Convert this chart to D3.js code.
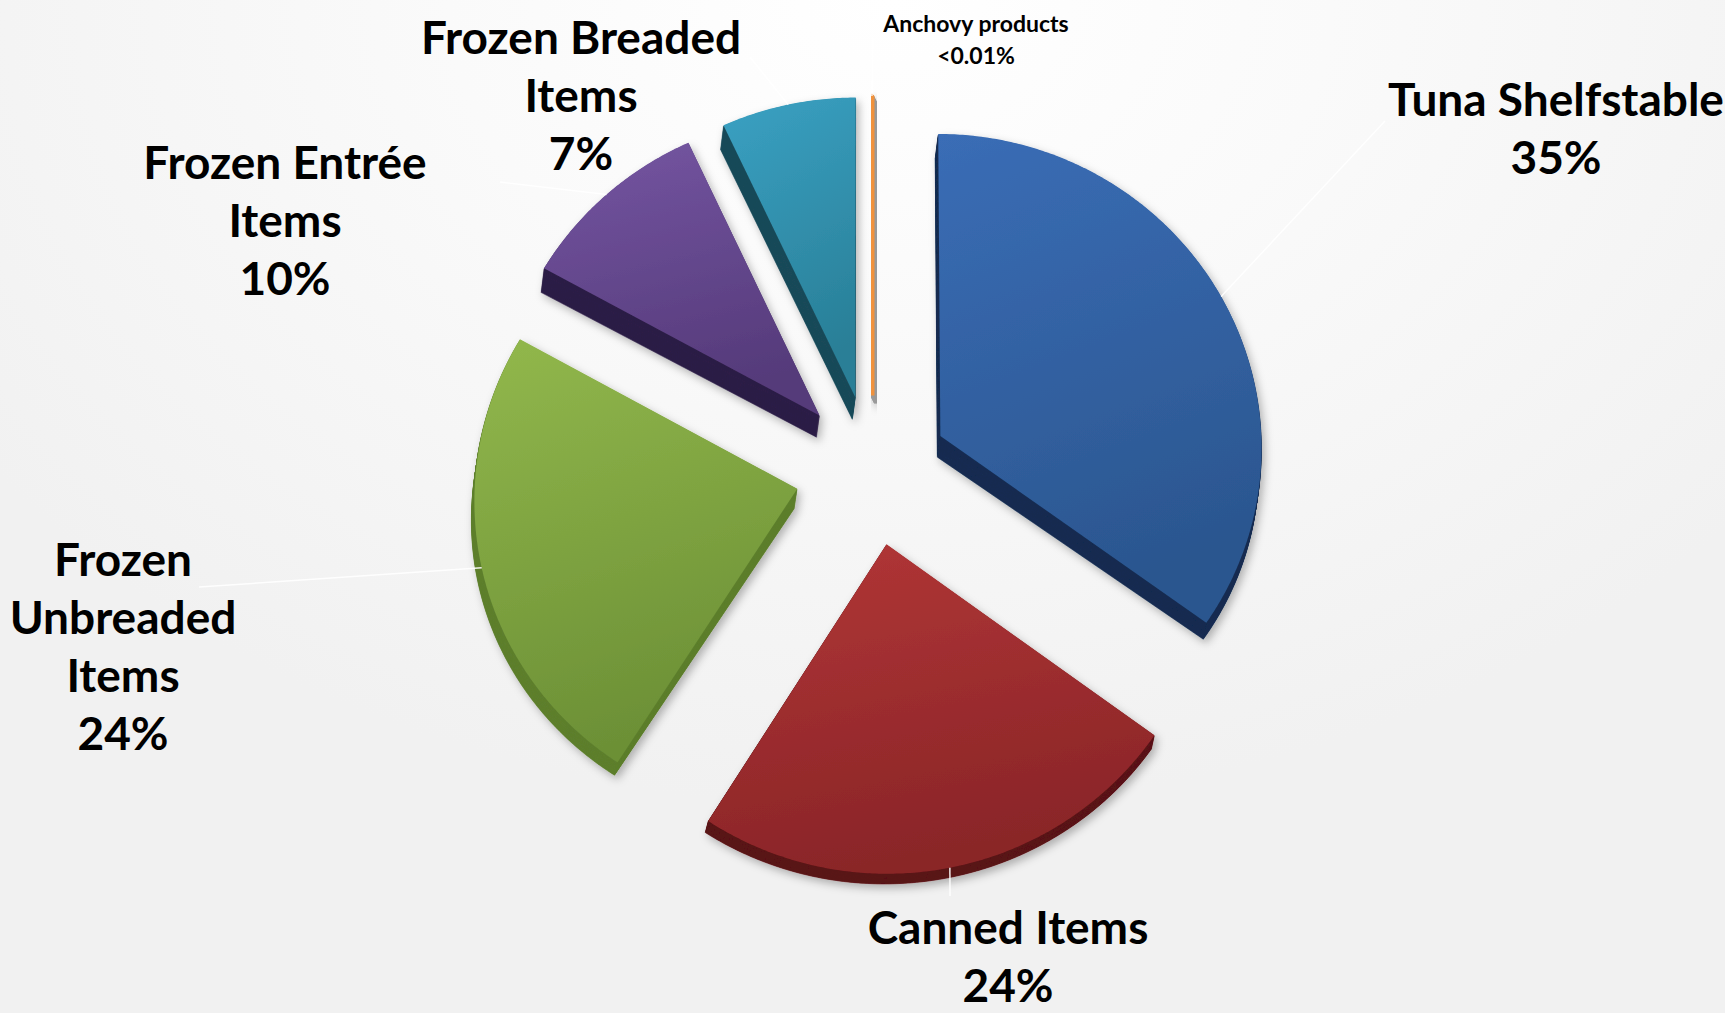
<!DOCTYPE html>
<html>
<head>
<meta charset="utf-8">
<script src="https://cdn.jsdelivr.net/npm/d3@7"></script>
<style>
  html, body { margin: 0; padding: 0; background: #f2f2f2; overflow: hidden; }
  text { font-family: "Lato", "Open Sans", sans-serif; font-weight: 700; fill: #000; }
</style>
</head>
<body>
<svg id="chart" width="1725" height="1013"></svg>
<script>
// ---- data ----
const categories = ["Tuna Shelfstable", "Canned Items", "Frozen Unbreaded Items",
                    "Frozen Entrée Items", "Frozen Breaded Items", "Anchovy products"];
const values = [35, 24, 24, 10, 7, 0.005];
const valueLabels = ["35%", "24%", "24%", "10%", "7%", "<0.01%"];
const labelLines = [
  ["Tuna Shelfstable"],
  ["Canned Items"],
  ["Frozen", "Unbreaded", "Items"],
  ["Frozen Entrée", "Items"],
  ["Frozen Breaded", "Items"],
  ["Anchovy products"]
];

// ---- styling ----
const faceLight = ["#3a6db6", "#b23636", "#92b84c", "#7556a2", "#3aa1c3", "#f0923c"];
const faceDark  = ["#2b568f", "#8a2528", "#6c9036", "#553a7a", "#297f97", "#d9782a"];
const sideColor = ["#152d52", "#5a1416", "#5e7f2e", "#2d1e47", "#1b4b5a", "#9a9a9a"];
const labelPos  = [[1556, 116], [1008, 944], [123, 576], [285, 179], [581, 54], [976, 32]];
const labelSize = [46, 46, 46, 46, 46, 23];
const lineGap   = [58, 58, 58, 58, 58, 32];
const leaderTo  = [[1385, 121], [950, 896], [199, 587], [500, 182], [750, 57], [873, 38]];

const W = 1725, H = 1013;
const center = [872, 470];
const radius = 322;
const explode = 77;
// mild perspective of the tilted disc
const persp = 0.0001, squash = 0.975;

const svg = d3.select("#chart");
const defs = svg.append("defs");

// background glow
const bg = defs.append("radialGradient").attr("id", "bg")
  .attr("cx", "52%").attr("cy", "0%").attr("r", "80%")
  .attr("gradientTransform", "translate(0.1,0) scale(0.8,1)");
bg.append("stop").attr("offset", "0%").attr("stop-color", "#ffffff");
bg.append("stop").attr("offset", "40%").attr("stop-color", "#fafafa");
bg.append("stop").attr("offset", "100%").attr("stop-color", "#f1f1f1");
svg.append("rect").attr("width", W).attr("height", H).attr("fill", "url(#bg)");

// soft shadow under each slice
const f = defs.append("filter").attr("id", "shadow")
  .attr("x", "-10%").attr("y", "-10%").attr("width", "130%").attr("height", "130%");
f.append("feDropShadow").attr("dx", 3).attr("dy", 4).attr("stdDeviation", 4)
  .attr("flood-color", "#000").attr("flood-opacity", 0.28);

categories.forEach((c, i) => {
  const g = defs.append("linearGradient").attr("id", "face" + i)
    .attr("x1", 0).attr("y1", 0).attr("x2", 0.25).attr("y2", 1);
  g.append("stop").attr("offset", "0%").attr("stop-color", faceLight[i]);
  g.append("stop").attr("offset", "100%").attr("stop-color", faceDark[i]);
});

const pie = d3.pie().value(d => d).sort(null);
const arcs = pie(values);

function project(p) {
  const k = 1 / (1 - persp * p[1]);
  return [center[0] + p[0] * k, center[1] + squash * p[1] * k];
}
// thickness of the slab seen at a screen position
function depthOffset(s, thin) {
  if (thin) return [4, 8];
  const dy = Math.max(8, Math.min(24, 21 - 0.025 * (s[1] - 440)));
  return [-3, dy];
}

function outline(a) {
  const mid = (a.startAngle + a.endAngle) / 2;
  const ox = explode * Math.sin(mid), oy = -explode * Math.cos(mid);
  const pts = [[ox, oy]];
  const n = Math.max(2, Math.ceil((a.endAngle - a.startAngle) / (Math.PI / 360)));
  d3.range(n + 1).forEach(j => {
    const t = a.startAngle + (a.endAngle - a.startAngle) * j / n;
    pts.push([ox + radius * Math.sin(t), oy - radius * Math.cos(t)]);
  });
  return pts.map(project);
}

const line = d3.line().curve(d3.curveLinearClosed);
const openLine = d3.line();
const steps = d3.range(24, 0, -1).map(j => j / 24);

const slices = svg.append("g").attr("class", "slices");
arcs.forEach((a, i) => {
  const top = outline(a);
  const thin = a.endAngle - a.startAngle < 0.02;
  const g = slices.append("g").attr("filter", "url(#shadow)");
  // side walls: the outline swept down through the slab
  const side = g.append("g");
  steps.forEach(t => {
    const layer = top.map(s => { const o = depthOffset(s, thin); return [s[0] + t * o[0], s[1] + t * o[1]]; });
    side.append("path").attr("d", line(layer)).attr("fill", sideColor[i])
      .attr("stroke", sideColor[i]).attr("stroke-width", thin ? 4 : 0.6)
      .attr("stroke-linejoin", "bevel");
  });
  // top face
  g.append("path").attr("d", line(top)).attr("fill", "url(#face" + i + ")")
    .attr("stroke", thin ? faceLight[i] : "none")
    .attr("stroke-width", 5).attr("stroke-linejoin", "bevel");
});

// leader lines
const leaders = svg.append("g");
arcs.forEach((a, i) => {
  const mid = (a.startAngle + a.endAngle) / 2;
  const ox = explode * Math.sin(mid), oy = -explode * Math.cos(mid);
  const p = project([ox + radius * Math.sin(mid), oy - radius * Math.cos(mid)]);
  leaders.append("path").attr("d", openLine([p, leaderTo[i]]))
    .attr("stroke", "#ffffff").attr("stroke-width", 1.5).attr("fill", "none").attr("opacity", 0.9);
});

// labels
const labels = svg.append("g");
categories.forEach((c, i) => {
  const t = labels.append("text").attr("text-anchor", "middle")
    .attr("x", labelPos[i][0]).attr("y", labelPos[i][1])
    .style("font-size", labelSize[i] + "px");
  labelLines[i].concat([valueLabels[i]]).forEach((s, j) => {
    t.append("tspan").attr("x", labelPos[i][0]).attr("dy", j === 0 ? 0 : lineGap[i]).text(s);
  });
});
</script>
</body>
</html>
